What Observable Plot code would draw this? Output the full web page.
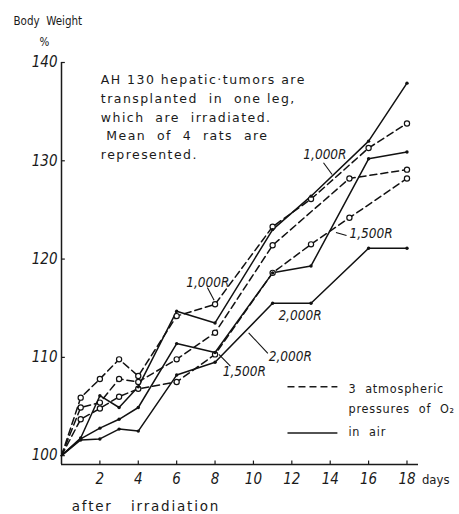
<!DOCTYPE html>
<html><head><meta charset="utf-8">
<script src="https://cdn.jsdelivr.net/npm/d3@7"></script>
<script src="https://cdn.jsdelivr.net/npm/@observablehq/plot@0.6"></script>
<style>
body{margin:0;background:#fff}
#chart svg{font-family:"DejaVu Sans Condensed","DejaVu Sans",sans-serif;color:#1a1a1a}
#chart g[aria-label="y-axis tick label"] text,
#chart g[aria-label="x-axis tick label"] text{font-style:italic}
#chart g[aria-description="note"] text{letter-spacing:1.45px}
#chart g[aria-description="xlabel"] text{letter-spacing:1.8px}
#chart g[aria-description="legend"] text{letter-spacing:0.8px}
</style></head><body><div id="chart"></div><script>
// Mean body weight (% of initial) of rats bearing AH 130 tumors, days after irradiation.
// 3 atmospheric pressures of O2 (dashed, open circles)
const o2Days1000 = [0, 1, 2, 3, 4, 6, 8, 11, 13, 16, 18];
const o2Pct1000  = [100, 105.9, 107.8, 109.8, 108.1, 114.2, 115.4, 123.3, 126.1, 131.3, 133.8];
const o2Days1500 = [0, 1, 2, 3, 4, 6, 8, 11, 15, 18];
const o2Pct1500  = [100, 104.9, 105.4, 107.8, 107.5, 109.8, 112.5, 121.4, 128.2, 129.1];
const o2Days2000 = [0, 1, 2, 3, 4, 6, 8, 11, 13, 15, 18];
const o2Pct2000  = [100, 103.7, 104.8, 106.0, 106.8, 107.5, 110.3, 118.6, 121.5, 124.2, 128.2];
// in air (solid, small dots)
const airDays1000 = [0, 1, 2, 3, 4, 6, 8, 11, 13, 16, 18];
const airPct1000  = [100, 101.8, 106.1, 104.9, 107.0, 114.7, 113.5, 123.0, 126.4, 132.0, 137.9];
const airDays1500 = [0, 1, 2, 3, 4, 6, 8, 11, 13, 16, 18];
const airPct1500  = [100, 101.7, 102.8, 103.7, 104.9, 111.4, 110.5, 118.6, 119.3, 130.2, 130.9];
const airDays2000 = [0, 1, 2, 3, 4, 6, 8, 11, 13, 16, 18];
const airPct2000  = [100, 101.6, 101.7, 102.7, 102.5, 108.2, 109.5, 115.5, 115.5, 121.1, 121.1];

const yTicks = [100, 110, 120, 130, 140];
const xTicks = [2, 4, 6, 8, 10, 12, 14, 16, 18];
const noteLines = ["AH 130 hepatic\u00b7tumors are", "transplanted  in  one leg,", "which  are  irradiated.", " Mean  of  4  rats  are", "represented."];

const series = (name, days, pct) => days.map((d, i) => ({name, day: d, pct: pct[i]}));
const o2 = [
  ...series("O2 1000R", o2Days1000, o2Pct1000),
  ...series("O2 1500R", o2Days1500, o2Pct1500),
  ...series("O2 2000R", o2Days2000, o2Pct2000)
];
const air = [
  ...series("air 1000R", airDays1000, airPct1000),
  ...series("air 1500R", airDays1500, airPct1500),
  ...series("air 2000R", airDays2000, airPct2000)
];

// dose labels in chart units, with short leader lines
const doseLabels = [
  {day: 12.6, pct: 130.6, text: "1,000R"},
  {day: 15.0, pct: 122.6, text: "1,500R"},
  {day: 11.3, pct: 114.2, text: "2,000R"},
  {day: 6.5, pct: 117.6, text: "1,000R"},
  {day: 8.4, pct: 108.5, text: "1,500R"},
  {day: 10.8, pct: 110.1, text: "2,000R"}
];
const leaders = [
  {x1: 13.65, y1: 129.8, x2: 14.1, y2: 128.6},
  {x1: 14.85, y1: 122.4, x2: 14.3, y2: 122.7},
  {x1: 7.6, y1: 117.1, x2: 7.95, y2: 115.8},
  {x1: 8.8, y1: 109.1, x2: 8.2, y2: 110.3},
  {x1: 10.75, y1: 110.4, x2: 9.75, y2: 112.5}
];

const chart = Plot.plot({
  width: 459,
  height: 514,
  marginLeft: 61,
  marginRight: 41,
  marginTop: 62,
  marginBottom: 50,
  style: {background: "#fff", overflow: "visible"},
  x: {domain: [0, 18.6]},
  y: {domain: [99.1, 140]},
  marks: [
    Plot.ruleX([0], {y1: 99.1, y2: 140, strokeWidth: 1.5}),
    Plot.ruleY([99.1], {x1: 0, x2: 18.6, strokeWidth: 1.5}),
    Plot.ruleY(yTicks, {x1: 0, x2: 0.2, strokeWidth: 1.2}),
    Plot.ruleX(xTicks, {y1: 99.1, y2: 99.45, strokeWidth: 1.2}),
    Plot.axisY({ticks: yTicks, tickSize: 0, tickPadding: 4, fontSize: 15, label: null}),
    Plot.axisX({ticks: xTicks, tickSize: 0, tickPadding: 9, fontSize: 15, label: null}),
    Plot.line(o2, {x: "day", y: "pct", z: "name", stroke: "#111", strokeWidth: 1.5, strokeDasharray: "7,4"}),
    Plot.line(air, {x: "day", y: "pct", z: "name", stroke: "#111", strokeWidth: 1.5}),
    Plot.dot(o2.filter(d => d.day > 0), {x: "day", y: "pct", r: 2.6, fill: "#fff", stroke: "#111", strokeWidth: 1.2}),
    Plot.dot(air.filter(d => d.day > 0), {x: "day", y: "pct", r: 1.7, fill: "#111"}),
    Plot.link(leaders, {x1: "x1", y1: "y1", x2: "x2", y2: "y2", stroke: "#111", strokeWidth: 1.1}),
    Plot.text(doseLabels, {x: "day", y: "pct", text: "text", fontSize: 13.5, fontStyle: "italic", textAnchor: "start"}),
    // headings and notes
    Plot.text(["Body  Weight"], {frameAnchor: "top-left", dx: -48, dy: -46, fontSize: 11.5, textAnchor: "start"}),
    Plot.text(["%"], {frameAnchor: "top-left", dx: -22, dy: -25, fontSize: 11.5, textAnchor: "start"}),
    Plot.text(noteLines, {x: 2.05, y: (d, i) => 138.2 - i * 1.9, fontSize: 12.5, textAnchor: "start", fontFamily: "DejaVu Sans", ariaDescription: "note"}),
    Plot.text(["days"], {frameAnchor: "bottom-right", dx: 31, dy: 19, fontSize: 13, textAnchor: "end"}),
    Plot.text(["after   irradiation"], {x: 4.4, y: 99.1, dy: 42, fontSize: 13.5, textAnchor: "middle", fontFamily: "DejaVu Sans", ariaDescription: "xlabel"}),
    // legend
    Plot.ruleY([107.0], {x1: 11.8, x2: 14.4, strokeDasharray: "7,4", strokeWidth: 1.5}),
    Plot.ruleY([102.3], {x1: 11.8, x2: 14.4, strokeWidth: 1.5}),
    Plot.text(["3  atmospheric", "pressures  of  O\u2082", "in  air"], {x: 14.95, y: [106.8, 104.75, 102.4], fontSize: 12.5, textAnchor: "start", ariaDescription: "legend"})
  ]
});
document.getElementById("chart").append(chart);
</script></body></html>
